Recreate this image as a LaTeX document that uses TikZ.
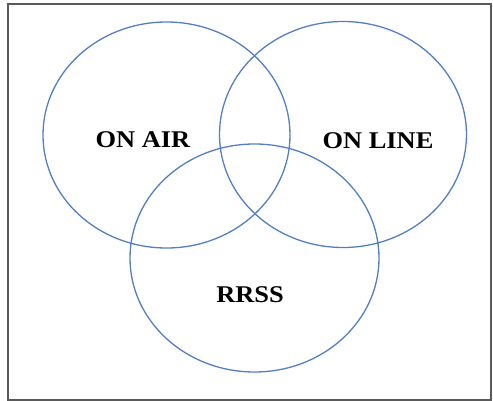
\documentclass[tikz,border=0pt]{standalone}
\usepackage{fontspec}
\setmainfont{Liberation Serif}
\usetikzlibrary{shapes.geometric}
\definecolor{vblue}{RGB}{84,126,196}
\definecolor{framegray}{RGB}{90,90,90}
\begin{document}
\begin{tikzpicture}[x=1pt,y=-1pt,
  venn/.style={ellipse, draw=vblue, line width=1.3pt, inner sep=0pt, minimum width=247pt, minimum height=226pt},
  lbl/.style={font=\fontsize{24}{27}\selectfont\bfseries, xscale=1.1, inner sep=0pt, anchor=base}]
\useasboundingbox (0,0) rectangle (493,401);
\draw[framegray, line width=1.6pt] (8,4) rectangle (491,400);
\node[venn] (air) at (166.5,135) {};
\node[venn] (line) at (343,134.5) {};
\node[venn, minimum width=249pt, minimum height=228pt] (rrss) at (254.5,258) {};
\node[lbl] (tair) at (143,147.5) {ON AIR};
\node[lbl] (tline) at (378,149) {ON LINE};
\node[lbl] (trrss) at (250,302.5) {RRSS};
\end{tikzpicture}
\end{document}
